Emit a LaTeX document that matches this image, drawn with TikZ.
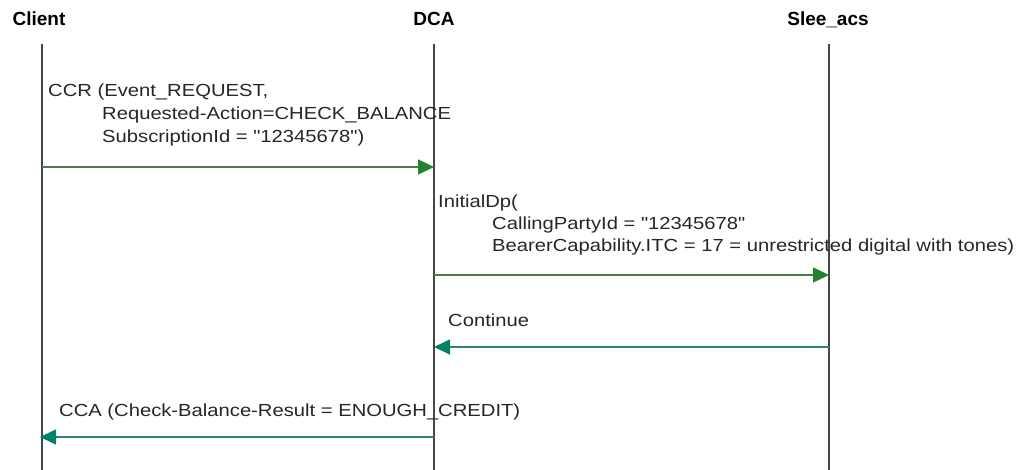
\documentclass[tikz,border=0pt]{standalone}
\usepackage{fontspec}
\usetikzlibrary{arrows.meta}
\newfontfamily\msgfont[FakeStretch=1.155]{Liberation Sans}
\newfontfamily\headfont{Liberation Sans}
\definecolor{lifegray}{RGB}{70,70,70}
\definecolor{fwdline}{RGB}{70,125,75}
\definecolor{fwdhead}{RGB}{35,130,45}
\definecolor{retline}{RGB}{45,130,115}
\definecolor{rethead}{RGB}{0,130,105}
\tikzset{
  head/.style={inner sep=0pt, anchor=base, font=\headfont\bfseries\fontsize{19}{22}\selectfont},
  lifeline/.style={draw=lifegray, line width=1.4pt},
  msgtext/.style={inner sep=0pt, anchor=base west, text=black!85, font=\msgfont\fontsize{17.5}{22.5}\selectfont},
  fwdmsg/.style={draw=fwdline, line width=1.4pt, -{Triangle[length=16pt,width=15pt,color=fwdhead]}},
  retmsg/.style={draw=retline, line width=1.4pt, -{Triangle[length=16pt,width=15pt,color=rethead]}}
}
\begin{document}
\begin{tikzpicture}[x=1pt,y=-1pt]
\useasboundingbox (0,0) rectangle (1021,470);
% headers
\node[head] (hclient) at (39,26) {Client};
\node[head] (hdca) at (434,26) {DCA};
\node[head] (hslee) at (828,26) {Slee\_acs};
% lifeline ends
\coordinate (ct) at (42,44);  \coordinate (cb) at (42,470);
\coordinate (dt) at (434,44); \coordinate (db) at (434,470);
\coordinate (st) at (829,44); \coordinate (sb) at (829,470);
\draw[lifeline] (ct) -- (cb);
\draw[lifeline] (dt) -- (db);
\draw[lifeline] (st) -- (sb);
% message 1: CCR
\node[msgtext] (ccr1) at (48,97) {CCR (Event\_REQUEST,};
\node[msgtext] (ccr2) at (102,120) {Requested-Action=CHECK\_BALANCE};
\node[msgtext] (ccr3) at (102,143) {SubscriptionId = "12345678")};
\coordinate (m1s) at (42,167); \coordinate (m1e) at (434,167);
\draw[fwdmsg] (m1s) -- (m1e);
% message 2: InitialDp
\node[msgtext] (idp1) at (438,208) {InitialDp(};
\node[msgtext] (idp2) at (492,230) {CallingPartyId = "12345678"};
\node[msgtext] (idp3) at (492,252) {BearerCapability.ITC = 17 = unrestricted digital with tones)};
\coordinate (m2s) at (434,275); \coordinate (m2e) at (829,275);
\draw[fwdmsg] (m2s) -- (m2e);
% message 3: Continue
\node[msgtext] (cont) at (448,327) {Continue};
\coordinate (m3s) at (829,347); \coordinate (m3e) at (434,347);
\draw[retmsg] (m3s) -- (m3e);
% message 4: CCA
\node[msgtext] (cca) at (59,417) {CCA (Check-Balance-Result = ENOUGH\_CREDIT)};
\coordinate (m4s) at (434,437); \coordinate (m4e) at (40,437);
\draw[retmsg] (m4s) -- (m4e);
\end{tikzpicture}
\end{document}
